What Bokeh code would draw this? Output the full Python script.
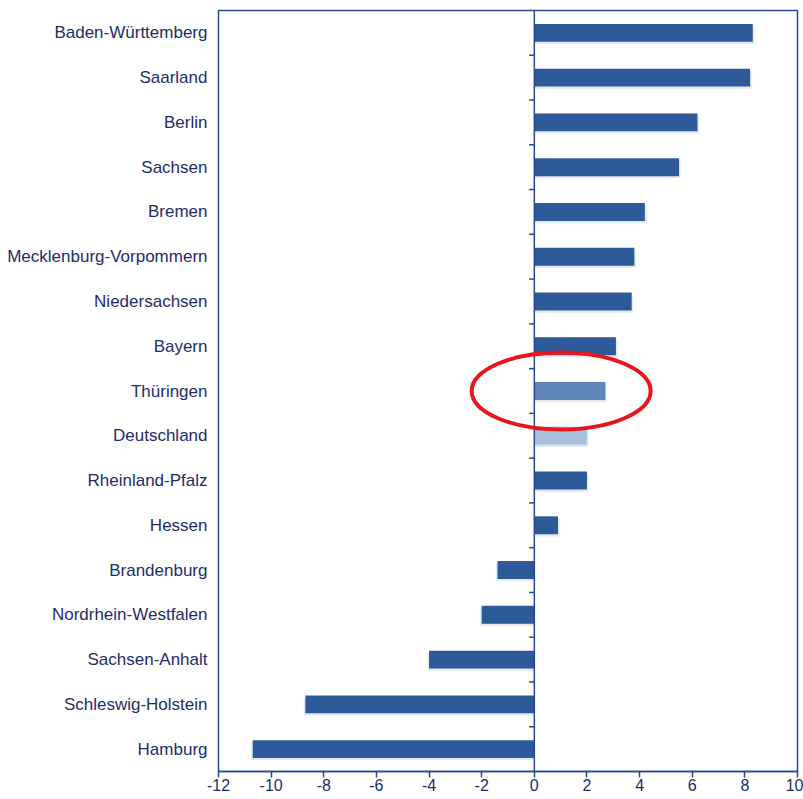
from bokeh.plotting import figure
from bokeh.models import Range1d, FixedTicker, ColumnDataSource
from bokeh.embed import file_html
from bokeh.resources import INLINE

# ---- data ----
states = ["Baden-Württemberg", "Saarland", "Berlin", "Sachsen", "Bremen",
          "Mecklenburg-Vorpommern", "Niedersachsen", "Bayern", "Thüringen",
          "Deutschland", "Rheinland-Pfalz", "Hessen", "Brandenburg",
          "Nordrhein-Westfalen", "Sachsen-Anhalt", "Schleswig-Holstein", "Hamburg"]
values = [8.3, 8.2, 6.2, 5.5, 4.2, 3.8, 3.7, 3.1, 2.7, 2.0, 2.0, 0.9,
          -1.4, -2.0, -4.0, -8.7, -10.7]
x_ticks = [-12, -10, -8, -6, -4, -2, 0, 2, 4, 6, 8, 10]
x_tick_labels = ["-12", "-10", "-8", "-6", "-4", "-2", "0", "2", "4", "6", "8", "10"]
highlight = "Thüringen"
reference = "Deutschland"

# ---- styles ----
BAR = "#2D5A98"
HIL = "#5F84B7"
REF = "#A9C0DD"
NAVY = "#1F2C6A"
FRAME = "#2B4790"
FONT = "Liberation Sans"

n = len(states)
ypos = [n - 1 - i for i in range(n)]
colors = [HIL if s == highlight else REF if s == reference else BAR for s in states]

src = ColumnDataSource(dict(y=ypos, v=values, c=colors, name=states))

p = figure(width=803, height=799, output_backend="svg", toolbar_location=None,
           x_range=Range1d(-12, 10), y_range=Range1d(-0.5, n - 0.5),
           min_border_left=218, min_border_right=6, min_border_top=10,
           min_border_bottom=28)
p.xgrid.visible = False
p.ygrid.visible = False
p.outline_line_color = FRAME
p.outline_line_width = 1.5
p.background_fill_color = "white"
p.border_fill_color = "white"

# soft shadow under bars
shadow_src = ColumnDataSource(dict(y=[y - 0.05 for y in ypos],
                                   v=[v + (0.06 if v > 0 else -0.06) for v in values]))
p.hbar(y="y", left=0, right="v", height=0.4, source=shadow_src,
       fill_color="#C9D6EA", fill_alpha=0.5, line_color=None)

p.hbar(y="y", left=0, right="v", height=0.4, source=src,
       fill_color="c", line_color=None)

# zero line with small ticks between categories
p.segment(x0=[0], x1=[0], y0=[-0.5], y1=[n - 0.5], line_color=FRAME, line_width=1.5)
bnd = [k + 0.5 for k in range(n - 1)]
p.segment(x0=[-0.2] * len(bnd), x1=[0] * len(bnd), y0=bnd, y1=bnd,
          line_color=FRAME, line_width=1.5)

# red highlight ellipse around Thüringen
hy = ypos[states.index(highlight)]
p.ellipse(x=[1.02], y=[hy], width=6.8, height=1.72, fill_color=None,
          line_color="#E8161C", line_width=4)

# axes
xa = p.xaxis[0]
xa.ticker = FixedTicker(ticks=x_ticks)
xa.major_label_overrides = {t: s for t, s in zip(x_ticks, x_tick_labels)}
xa.axis_line_color = FRAME
xa.axis_line_width = 1.5
xa.major_tick_line_color = FRAME
xa.major_tick_line_width = 1.5
xa.major_tick_in = 0
xa.major_tick_out = 6
xa.minor_tick_line_color = None
xa.major_label_text_font = FONT
xa.major_label_text_font_size = "16px"
xa.major_label_text_color = NAVY
xa.major_label_standoff = 1

ya = p.yaxis[0]
ya.ticker = FixedTicker(ticks=ypos)
ya.major_label_overrides = {y: s for y, s in zip(ypos, states)}
ya.axis_line_color = None
ya.major_tick_line_color = None
ya.minor_tick_line_color = None
ya.major_tick_in = 0
ya.major_tick_out = 0
ya.major_label_standoff = 11
ya.major_label_text_font = FONT
ya.major_label_text_font_size = "17px"
ya.major_label_text_color = NAVY

open("out.html", "w").write(file_html(p, INLINE))
